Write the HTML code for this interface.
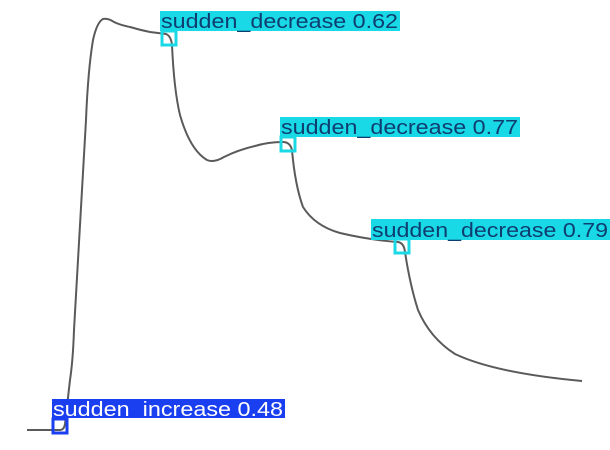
<!DOCTYPE html>
<html><head><style>
html,body{margin:0;padding:0;background:#fff;}
svg{display:block}
text{font-family:"Liberation Sans","DejaVu Sans",sans-serif;font-size:20px;}
</style></head><body>
<svg width="610" height="450" viewBox="0 0 610 450">
<path d="M27,430 L60,430 Q64,430 65,424 L70,380 Q73,360 74,330 L86,120 Q88,70 93,40 Q97,22 103,19 Q108,18 114,22 Q120,25 130,27 Q140,30 150,32 L166,34 Q171,36 172,45 Q174,90 180,115 Q190,150 207,160 Q214,163 224,157 Q238,150 255,146 Q268,142 283,142 Q290,142 292,150 Q295,185 303,207 Q315,226 340,233 Q370,240 398,242 Q404,243 405,252 Q410,285 418,310 Q430,338 455,354 Q495,373 582,381" fill="none" stroke="#5a5a5a" stroke-width="2"/>
<rect x="160" y="11" width="240" height="20" fill="#1ad9e6"/>
<text x="161" y="28" fill="#0e3d70" textLength="237" lengthAdjust="spacingAndGlyphs">sudden_decrease 0.62</text>
<rect x="162" y="31" width="14" height="14" fill="none" stroke="#1ad9e6" stroke-width="3"/>
<rect x="280" y="117" width="240" height="20" fill="#1ad9e6"/>
<text x="281" y="134" fill="#0e3d70" textLength="237" lengthAdjust="spacingAndGlyphs">sudden_decrease 0.77</text>
<rect x="281" y="137" width="14" height="14" fill="none" stroke="#1ad9e6" stroke-width="3"/>
<rect x="371" y="219" width="239" height="21" fill="#1ad9e6"/>
<text x="372" y="237" fill="#0e3d70" textLength="236" lengthAdjust="spacingAndGlyphs">sudden_decrease 0.79</text>
<rect x="395" y="239" width="14" height="14" fill="none" stroke="#1ad9e6" stroke-width="3"/>
<rect x="52" y="399" width="233" height="19" fill="#1a3ff0"/>
<text x="53" y="416" fill="#ffffff" textLength="230" lengthAdjust="spacingAndGlyphs">sudden_increase 0.48</text>
<rect x="53" y="419" width="14" height="14" fill="none" stroke="#1a3ff0" stroke-width="3"/>
</svg>
</body></html>
